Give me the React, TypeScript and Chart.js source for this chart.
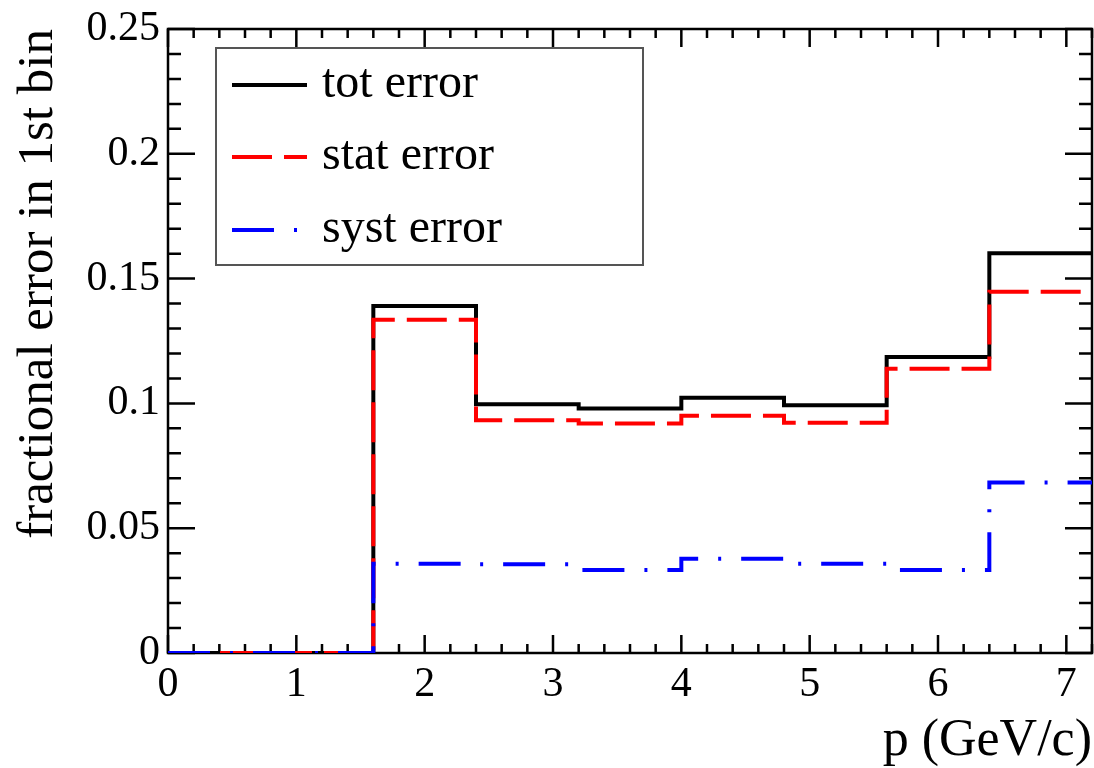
import React, { useEffect, useRef } from "react";
import { Chart, registerables } from "chart.js";

Chart.register(...registerables);

// Momentum bin edges (GeV/c)
const binEdges = [0, 0.8, 1.6, 2.4, 3.2, 4.0, 4.8, 5.6, 6.4, 7.2];
// Fractional error per bin
const totError = [0, 0, 0.139, 0.0997, 0.098, 0.1023, 0.0993, 0.1186, 0.1602];
const statError = [0, 0, 0.1335, 0.0932, 0.0919, 0.0951, 0.0922, 0.1139, 0.1447];
const systError = [0, 0, 0.0358, 0.0356, 0.0333, 0.0378, 0.0358, 0.0333, 0.0683];
const seriesNames = ["tot error", "stat error", "syst error"];
const xTicks = [0, 1, 2, 3, 4, 5, 6, 7];
const yTicks = [0, 0.05, 0.1, 0.15, 0.2, 0.25];
const xTitle = "p (GeV/c)";
const yTitle = "fractional error in 1st bin";

const FONT = '"Liberation Serif", "Times New Roman", Times, serif';
const X_MINOR = 0.2;
const Y_MINOR = 0.01;

// Step-histogram points: one point per left bin edge, plus the closing right edge
function histPoints(values: number[]) {
  return binEdges.map((x, i) => ({ x, y: values[Math.min(i, values.length - 1)] }));
}

// Frame around the plot with inward major/minor ticks on all four sides
const frameTicks = {
  id: "frameTicks",
  beforeDatasetsDraw(chart: any) {
    const { ctx, chartArea: a, scales } = chart;
    const xs = scales.x;
    const ys = scales.y;
    ctx.save();
    ctx.strokeStyle = "#000";
    ctx.lineWidth = 2.5;
    ctx.strokeRect(a.left, a.top, a.right - a.left, a.bottom - a.top);
    ctx.beginPath();
    const nx = Math.round((xs.max - xs.min) / X_MINOR);
    for (let i = 0; i <= nx; i++) {
      const v = xs.min + i * X_MINOR;
      const major = Math.abs(v - Math.round(v)) < 1e-6;
      const len = major ? 18 : 9;
      const px = xs.getPixelForValue(v);
      ctx.moveTo(px, a.bottom);
      ctx.lineTo(px, a.bottom - len);
      ctx.moveTo(px, a.top);
      ctx.lineTo(px, a.top + len);
    }
    const ny = Math.round((ys.max - ys.min) / Y_MINOR);
    for (let i = 0; i <= ny; i++) {
      const v = ys.min + i * Y_MINOR;
      const major = i % 5 === 0;
      const len = major ? 27 : 13;
      const py = ys.getPixelForValue(v);
      ctx.moveTo(a.left, py);
      ctx.lineTo(a.left + len, py);
      ctx.moveTo(a.right, py);
      ctx.lineTo(a.right - len, py);
    }
    ctx.stroke();
    ctx.restore();
  },
};

// Boxed legend inside the upper-left of the plot
const boxLegend = {
  id: "boxLegend",
  afterDatasetsDraw(chart: any) {
    const { ctx } = chart;
    const box = { x: 216, y: 48, w: 427, h: 217 };
    ctx.save();
    ctx.fillStyle = "#fff";
    ctx.fillRect(box.x, box.y, box.w, box.h);
    ctx.strokeStyle = "#555";
    ctx.lineWidth = 2;
    ctx.strokeRect(box.x, box.y, box.w, box.h);
    const rows = [85, 157, 230];
    chart.data.datasets.forEach((ds: any, i: number) => {
      const y = rows[i];
      ctx.beginPath();
      ctx.strokeStyle = ds.borderColor;
      ctx.lineWidth = ds.borderWidth;
      ctx.lineCap = "butt";
      ctx.setLineDash(ds.borderDash || []);
      ctx.moveTo(232, y);
      ctx.lineTo(307, y);
      ctx.stroke();
      ctx.setLineDash([]);
      ctx.fillStyle = "#000";
      ctx.font = `48px ${FONT}`;
      ctx.textBaseline = "alphabetic";
      ctx.textAlign = "left";
      ctx.fillText(ds.label, 322, y + 12);
    });
    ctx.restore();
  },
};

function buildChart(canvas: HTMLCanvasElement) {
  const common = {
    stepped: true,
    pointRadius: 0,
    pointHoverRadius: 0,
    fill: false,
    tension: 0,
    borderWidth: 4,
    borderCapStyle: "butt",
    borderJoinStyle: "miter",
  };
  return new Chart(canvas, {
    type: "line",
    data: {
      datasets: [
        { ...common, label: seriesNames[0], data: histPoints(totError), borderColor: "#000000", borderDash: [], order: 2 },
        { ...common, label: seriesNames[1], data: histPoints(statError), borderColor: "#ff0000", borderDash: [40, 12], order: 1 },
        { ...common, label: seriesNames[2], data: histPoints(systError), borderColor: "#0000ff", borderDash: [42, 20, 3, 20], order: 0 },
      ],
    } as any,
    options: {
      animation: false,
      responsive: false,
      devicePixelRatio: 1,
      layout: { padding: { top: 23, right: 2, left: 0, bottom: 0 } },
      plugins: {
        legend: { display: false },
        tooltip: { enabled: false },
      },
      scales: {
        x: {
          type: "linear",
          min: 0,
          max: 7.2,
          afterBuildTicks: (s: any) => {
            s.ticks = xTicks.map((v) => ({ value: v }));
          },
          afterFit: (s: any) => {
            s.height = 115;
          },
          grid: { display: false, drawTicks: false },
          border: { display: false },
          ticks: {
            font: { family: FONT, size: 42, lineHeight: 1 },
            color: "#000",
            padding: 11,
            maxRotation: 0,
            autoSkip: false,
            callback: (v: any) => String(v),
          },
          title: {
            display: true,
            text: xTitle,
            align: "end",
            color: "#000",
            font: { family: FONT, size: 52, lineHeight: 1 },
            padding: { top: 0, bottom: 1 },
          },
        },
        y: {
          type: "linear",
          min: 0,
          max: 0.25,
          afterBuildTicks: (s: any) => {
            s.ticks = yTicks.map((v) => ({ value: v }));
          },
          afterFit: (s: any) => {
            s.width = 168;
          },
          grid: { display: false, drawTicks: false },
          border: { display: false },
          ticks: {
            font: { family: FONT, size: 42, lineHeight: 1 },
            color: "#000",
            padding: 8,
            autoSkip: false,
            callback: (v: any) => String(Number(Number(v).toFixed(2))),
          },
          title: {
            display: true,
            text: yTitle,
            align: "end",
            color: "#000",
            font: { family: FONT, size: 51, lineHeight: 1 },
            padding: { top: 13, bottom: 0 },
          },
        },
      },
    } as any,
    plugins: [frameTicks, boxLegend],
  });
}

export default function App() {
  const canvasRef = useRef<HTMLCanvasElement | null>(null);

  useEffect(() => {
    const canvas = canvasRef.current;
    if (!canvas) return;
    let chart: Chart | null = null;
    let cancelled = false;
    const fontsReady = (document as any).fonts
      ? Promise.all([
          (document as any).fonts.load('42px "Liberation Serif"'),
          (document as any).fonts.load('52px "Liberation Serif"'),
        ]).catch(() => null)
      : Promise.resolve(null);
    fontsReady.then(() => {
      if (cancelled) return;
      chart = buildChart(canvas);
    });
    return () => {
      cancelled = true;
      if (chart) chart.destroy();
    };
  }, []);

  return (
    <div style={{ position: "fixed", left: 0, top: 0, width: 1094, height: 768, background: "#fff", fontFamily: FONT }}>
      <canvas ref={canvasRef} width={1094} height={768} style={{ display: "block", width: 1094, height: 768 }} />
    </div>
  );
}
